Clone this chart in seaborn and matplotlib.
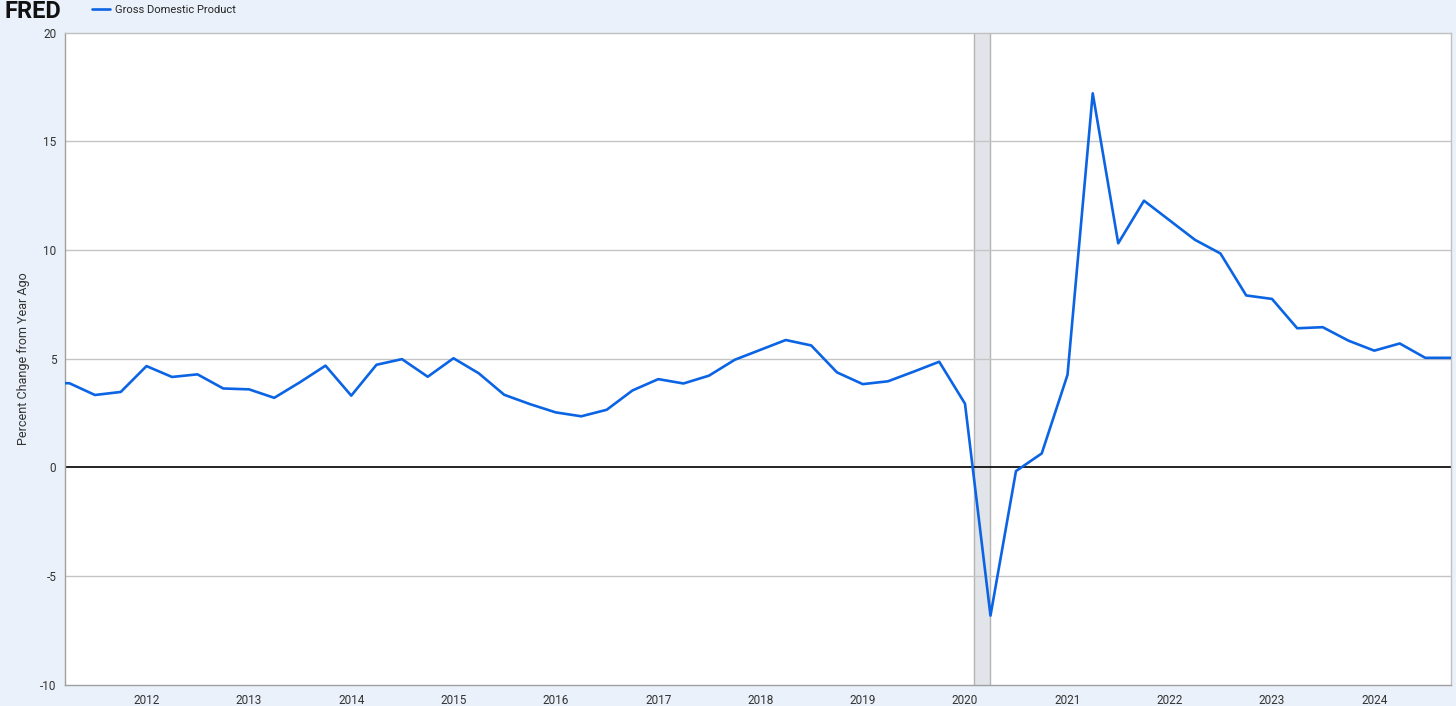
import numpy as np
import pandas as pd
import matplotlib.pyplot as plt
import matplotlib.dates as mdates
import seaborn as sns

sns.set_style("white")
plt.rcParams['font.family'] = ['Roboto', 'DejaVu Sans']

# quarterly GDP, percent change from year ago
quarters = pd.date_range("2011-01-01", "2024-10-01", freq="QS")
gdp_pct = [3.90, 3.87, 3.33, 3.47,
           4.66, 4.16, 4.28, 3.63,
           3.59, 3.20, 3.91, 4.68,
           3.30, 4.72, 4.98, 4.17,
           5.02, 4.33, 3.34, 2.91,
           2.53, 2.35, 2.65, 3.54,
           4.06, 3.86, 4.22, 4.95,
           5.41, 5.86, 5.61, 4.37,
           3.83, 3.96, 4.40, 4.86,
           2.93, -6.82, -0.17, 0.64,
           4.26, 17.21, 10.31, 12.27,
           11.36, 10.47, 9.84, 7.91,
           7.75, 6.40, 6.45, 5.83,
           5.37, 5.70, 5.04, 5.04]
recession = ("2020-02-01", "2020-04-01")
y_ticks = [-10, -5, 0, 5, 10, 15, 20]

data = pd.DataFrame({"date": quarters, "value": gdp_pct})

bg = "#eaf1fa"
blue = "#0b64e4"

fig = plt.figure(figsize=(14.56, 7.06), dpi=100, facecolor=bg)
ax = fig.add_axes([64.7 / 1456, 21.3 / 706, 1386.3 / 1456, 652 / 706])
ax.set_facecolor("white")

# recession band
r0, r1 = pd.to_datetime(recession[0]), pd.to_datetime(recession[1])
ax.axvspan(r0, r1, color="#e1e5ea", zorder=0, lw=0)
ax.axvline(r0, color="#b4b4b4", lw=1, zorder=1)
ax.axvline(r1, color="#b4b4b4", lw=1, zorder=1)

# gridlines
for t in y_ticks[1:-1]:
    if t == 0:
        continue
    ax.axhline(t, color="#c4c4c4", lw=1, zorder=1)
ax.axhline(0, color="#111111", lw=1.3, zorder=2)

sns.lineplot(data=data, x="date", y="value", color=blue, lw=1.9, ax=ax,
             label="Gross Domestic Product", zorder=3)

ax.set_xlim(pd.Timestamp("2011-03-15"), pd.Timestamp("2024-10-01"))
ax.set_ylim(-10, 20)
ax.set_yticks(y_ticks)
ax.set_yticklabels([str(t) for t in y_ticks])
ax.xaxis.set_major_locator(mdates.YearLocator())
ax.xaxis.set_major_formatter(mdates.DateFormatter("%Y"))

ax.tick_params(axis="y", length=0, pad=6, labelsize=8.5, labelcolor="#333333")
ax.tick_params(axis="x", length=5, width=0.8, color="#cccccc", pad=2,
               labelsize=8.5, labelcolor="#333333")
ax.set_xlabel("")
ax.set_ylabel("Percent Change from Year Ago", fontsize=9, color="#333333", labelpad=7.5)

for side in ["left", "bottom"]:
    ax.spines[side].set_color("#a0a0a0")
    ax.spines[side].set_linewidth(1)
for side in ["top", "right"]:
    ax.spines[side].set_color("#c0c0c0")
    ax.spines[side].set_linewidth(1)

# header: FRED logo text + legend
fig.text(4 / 1456, 1 - 11 / 706, "FRED", fontsize=17, fontweight="bold",
         color="#111111", va="center", ha="left")
handles, labels = ax.get_legend_handles_labels()
ax.get_legend().remove()
fig.legend(handles, labels, loc="center left", bbox_to_anchor=(92 / 1456, 1 - 10 / 706),
           frameon=False, fontsize=8, handlelength=1.6, handletextpad=0.45,
           borderpad=0, borderaxespad=0)

fig.savefig("out.png", dpi=100, facecolor=bg)
